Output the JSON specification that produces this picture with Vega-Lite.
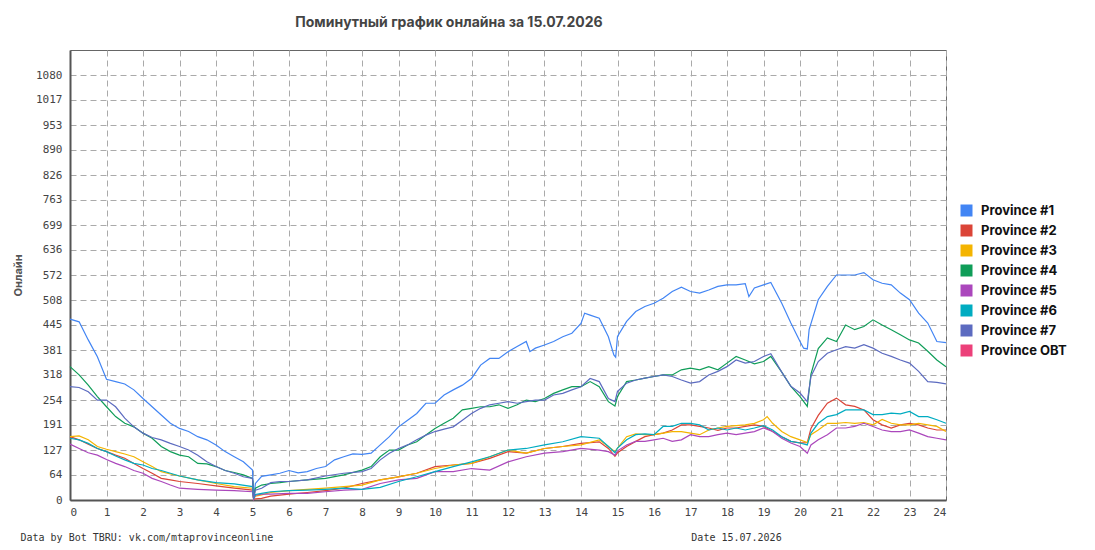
{
  "$schema": "https://vega.github.io/schema/vega-lite/v6.json",
  "width": 876,
  "height": 450,
  "autosize": "none",
  "padding": {"left": 70, "top": 50, "right": 149, "bottom": 50},
  "background": "white",
  "title": {
    "text": "Поминутный график онлайна за 15.07.2026",
    "font": "Inter",
    "fontSize": 14,
    "fontWeight": "bold",
    "color": "#444",
    "anchor": "middle",
    "dx": -59,
    "offset": 20
  },
  "config": {
    "view": {"stroke": "#666", "strokeWidth": 1},
    "axis": {
      "labelFont": "DejaVu Sans Mono",
      "labelFontSize": 11,
      "labelColor": "#444",
      "ticks": false,
      "grid": true,
      "gridColor": "#aaa",
      "gridDash": [6, 4],
      "gridWidth": 1,
      "domainColor": "#555",
      "domainWidth": 2
    }
  },
  "data": {
    "values": [
      {"h":0,"s":"Province #1","v":460},{"h":0.25,"s":"Province #1","v":453},{"h":0.5,"s":"Province #1","v":407},{"h":0.75,"s":"Province #1","v":364},
      {"h":1,"s":"Province #1","v":307},{"h":1.25,"s":"Province #1","v":301},{"h":1.5,"s":"Province #1","v":295},{"h":1.75,"s":"Province #1","v":280},
      {"h":2,"s":"Province #1","v":258},{"h":2.25,"s":"Province #1","v":237},{"h":2.5,"s":"Province #1","v":216},{"h":2.75,"s":"Province #1","v":195},
      {"h":3,"s":"Province #1","v":182},{"h":3.25,"s":"Province #1","v":174},{"h":3.5,"s":"Province #1","v":161},{"h":3.75,"s":"Province #1","v":153},
      {"h":4,"s":"Province #1","v":140},{"h":4.25,"s":"Province #1","v":123},{"h":4.5,"s":"Province #1","v":110},{"h":4.75,"s":"Province #1","v":97},
      {"h":5,"s":"Province #1","v":76},{"h":5.03,"s":"Province #1","v":4},{"h":5.08,"s":"Province #1","v":42},{"h":5.25,"s":"Province #1","v":60},
      {"h":5.5,"s":"Province #1","v":64},{"h":5.75,"s":"Province #1","v":68},{"h":6,"s":"Province #1","v":75},{"h":6.25,"s":"Province #1","v":69},
      {"h":6.5,"s":"Province #1","v":72},{"h":6.75,"s":"Province #1","v":80},{"h":7,"s":"Province #1","v":85},{"h":7.25,"s":"Province #1","v":102},
      {"h":7.5,"s":"Province #1","v":110},{"h":7.75,"s":"Province #1","v":117},{"h":8,"s":"Province #1","v":116},{"h":8.25,"s":"Province #1","v":119},
      {"h":8.5,"s":"Province #1","v":140},{"h":8.75,"s":"Province #1","v":161},{"h":9,"s":"Province #1","v":186},{"h":9.25,"s":"Province #1","v":203},
      {"h":9.5,"s":"Province #1","v":220},{"h":9.75,"s":"Province #1","v":246},{"h":10,"s":"Province #1","v":246},{"h":10.25,"s":"Province #1","v":267},
      {"h":10.5,"s":"Province #1","v":280},{"h":10.75,"s":"Province #1","v":292},{"h":11,"s":"Province #1","v":309},{"h":11.25,"s":"Province #1","v":343},
      {"h":11.5,"s":"Province #1","v":360},{"h":11.75,"s":"Province #1","v":360},{"h":12,"s":"Province #1","v":377},{"h":12.25,"s":"Province #1","v":390},
      {"h":12.5,"s":"Province #1","v":403},{"h":12.6,"s":"Province #1","v":377},{"h":12.75,"s":"Province #1","v":386},{"h":13,"s":"Province #1","v":394},
      {"h":13.25,"s":"Province #1","v":403},{"h":13.5,"s":"Province #1","v":415},{"h":13.75,"s":"Province #1","v":424},{"h":14,"s":"Province #1","v":449},
      {"h":14.1,"s":"Province #1","v":475},{"h":14.25,"s":"Province #1","v":470},{"h":14.5,"s":"Province #1","v":462},{"h":14.75,"s":"Province #1","v":415},
      {"h":14.9,"s":"Province #1","v":369},{"h":14.95,"s":"Province #1","v":363},{"h":15,"s":"Province #1","v":416},{"h":15.25,"s":"Province #1","v":454},
      {"h":15.5,"s":"Province #1","v":479},{"h":15.75,"s":"Province #1","v":492},{"h":16,"s":"Province #1","v":500},{"h":16.25,"s":"Province #1","v":513},
      {"h":16.5,"s":"Province #1","v":530},{"h":16.75,"s":"Province #1","v":541},{"h":17,"s":"Province #1","v":530},{"h":17.25,"s":"Province #1","v":526},
      {"h":17.5,"s":"Province #1","v":534},{"h":17.75,"s":"Province #1","v":543},{"h":18,"s":"Province #1","v":547},{"h":18.25,"s":"Province #1","v":547},
      {"h":18.5,"s":"Province #1","v":550},{"h":18.6,"s":"Province #1","v":517},{"h":18.75,"s":"Province #1","v":539},{"h":19,"s":"Province #1","v":547},
      {"h":19.2,"s":"Province #1","v":553},{"h":19.5,"s":"Province #1","v":500},{"h":19.75,"s":"Province #1","v":450},{"h":20,"s":"Province #1","v":403},
      {"h":20.1,"s":"Province #1","v":386},{"h":20.2,"s":"Province #1","v":384},{"h":20.25,"s":"Province #1","v":433},{"h":20.5,"s":"Province #1","v":509},
      {"h":20.75,"s":"Province #1","v":543},{"h":21,"s":"Province #1","v":572},{"h":21.25,"s":"Province #1","v":572},{"h":21.5,"s":"Province #1","v":572},
      {"h":21.75,"s":"Province #1","v":578},{"h":22,"s":"Province #1","v":560},{"h":22.25,"s":"Province #1","v":551},{"h":22.5,"s":"Province #1","v":547},
      {"h":22.75,"s":"Province #1","v":526},{"h":23,"s":"Province #1","v":509},{"h":23.25,"s":"Province #1","v":475},{"h":23.5,"s":"Province #1","v":450},
      {"h":23.75,"s":"Province #1","v":403},{"h":24,"s":"Province #1","v":400},

      {"h":0,"s":"Province #2","v":161},{"h":0.25,"s":"Province #2","v":153},{"h":0.5,"s":"Province #2","v":142},{"h":0.75,"s":"Province #2","v":131},
      {"h":1,"s":"Province #2","v":123},{"h":1.25,"s":"Province #2","v":114},{"h":1.5,"s":"Province #2","v":106},{"h":1.75,"s":"Province #2","v":93},
      {"h":2,"s":"Province #2","v":80},{"h":2.25,"s":"Province #2","v":68},{"h":2.5,"s":"Province #2","v":55},{"h":2.75,"s":"Province #2","v":51},
      {"h":3,"s":"Province #2","v":47},{"h":3.5,"s":"Province #2","v":42},{"h":4,"s":"Province #2","v":36},{"h":4.5,"s":"Province #2","v":30},
      {"h":5,"s":"Province #2","v":25},{"h":5.03,"s":"Province #2","v":2},{"h":5.08,"s":"Province #2","v":3},{"h":5.25,"s":"Province #2","v":4},
      {"h":5.5,"s":"Province #2","v":10},{"h":6,"s":"Province #2","v":15},{"h":6.5,"s":"Province #2","v":19},{"h":7,"s":"Province #2","v":24},
      {"h":7.5,"s":"Province #2","v":30},{"h":8,"s":"Province #2","v":42},{"h":8.5,"s":"Province #2","v":51},{"h":9,"s":"Province #2","v":59},
      {"h":9.5,"s":"Province #2","v":68},{"h":10,"s":"Province #2","v":85},{"h":10.5,"s":"Province #2","v":89},{"h":11,"s":"Province #2","v":93},
      {"h":11.5,"s":"Province #2","v":106},{"h":12,"s":"Province #2","v":123},{"h":12.5,"s":"Province #2","v":119},{"h":13,"s":"Province #2","v":131},
      {"h":13.5,"s":"Province #2","v":136},{"h":14,"s":"Province #2","v":144},{"h":14.5,"s":"Province #2","v":148},{"h":14.75,"s":"Province #2","v":131},
      {"h":14.93,"s":"Province #2","v":111},{"h":15,"s":"Province #2","v":120},{"h":15.25,"s":"Province #2","v":136},{"h":15.5,"s":"Province #2","v":149},
      {"h":15.75,"s":"Province #2","v":161},{"h":16,"s":"Province #2","v":166},{"h":16.25,"s":"Province #2","v":170},{"h":16.5,"s":"Province #2","v":178},
      {"h":16.75,"s":"Province #2","v":191},{"h":17,"s":"Province #2","v":191},{"h":17.25,"s":"Province #2","v":187},{"h":17.5,"s":"Province #2","v":183},
      {"h":17.75,"s":"Province #2","v":177},{"h":18,"s":"Province #2","v":183},{"h":18.25,"s":"Province #2","v":183},{"h":18.5,"s":"Province #2","v":187},
      {"h":18.75,"s":"Province #2","v":191},{"h":19,"s":"Province #2","v":187},{"h":19.25,"s":"Province #2","v":174},{"h":19.5,"s":"Province #2","v":161},
      {"h":19.75,"s":"Province #2","v":149},{"h":20,"s":"Province #2","v":145},{"h":20.2,"s":"Province #2","v":146},{"h":20.3,"s":"Province #2","v":182},
      {"h":20.5,"s":"Province #2","v":215},{"h":20.75,"s":"Province #2","v":246},{"h":21,"s":"Province #2","v":259},{"h":21.25,"s":"Province #2","v":242},
      {"h":21.5,"s":"Province #2","v":238},{"h":21.75,"s":"Province #2","v":229},{"h":22,"s":"Province #2","v":204},{"h":22.25,"s":"Province #2","v":191},
      {"h":22.5,"s":"Province #2","v":183},{"h":22.75,"s":"Province #2","v":191},{"h":23,"s":"Province #2","v":195},{"h":23.25,"s":"Province #2","v":191},
      {"h":23.5,"s":"Province #2","v":183},{"h":23.75,"s":"Province #2","v":178},{"h":24,"s":"Province #2","v":178},

      {"h":0,"s":"Province #3","v":161},{"h":0.25,"s":"Province #3","v":163},{"h":0.5,"s":"Province #3","v":153},{"h":0.75,"s":"Province #3","v":136},
      {"h":1,"s":"Province #3","v":129},{"h":1.25,"s":"Province #3","v":123},{"h":1.5,"s":"Province #3","v":117},{"h":1.75,"s":"Province #3","v":110},
      {"h":2,"s":"Province #3","v":97},{"h":2.25,"s":"Province #3","v":85},{"h":2.5,"s":"Province #3","v":72},{"h":2.75,"s":"Province #3","v":66},
      {"h":3,"s":"Province #3","v":61},{"h":3.5,"s":"Province #3","v":51},{"h":4,"s":"Province #3","v":42},{"h":4.5,"s":"Province #3","v":34},
      {"h":5,"s":"Province #3","v":30},{"h":5.03,"s":"Province #3","v":3},{"h":5.08,"s":"Province #3","v":10},{"h":5.25,"s":"Province #3","v":13},
      {"h":5.5,"s":"Province #3","v":19},{"h":6,"s":"Province #3","v":24},{"h":6.5,"s":"Province #3","v":27},{"h":7,"s":"Province #3","v":30},
      {"h":7.5,"s":"Province #3","v":34},{"h":8,"s":"Province #3","v":38},{"h":8.5,"s":"Province #3","v":51},{"h":9,"s":"Province #3","v":59},
      {"h":9.5,"s":"Province #3","v":68},{"h":10,"s":"Province #3","v":80},{"h":10.5,"s":"Province #3","v":89},{"h":11,"s":"Province #3","v":93},
      {"h":11.5,"s":"Province #3","v":110},{"h":12,"s":"Province #3","v":127},{"h":12.5,"s":"Province #3","v":119},{"h":13,"s":"Province #3","v":131},
      {"h":13.5,"s":"Province #3","v":136},{"h":14,"s":"Province #3","v":140},{"h":14.5,"s":"Province #3","v":153},{"h":14.75,"s":"Province #3","v":136},
      {"h":14.93,"s":"Province #3","v":123},{"h":15,"s":"Province #3","v":132},{"h":15.25,"s":"Province #3","v":161},{"h":15.5,"s":"Province #3","v":168},
      {"h":15.75,"s":"Province #3","v":166},{"h":16,"s":"Province #3","v":166},{"h":16.25,"s":"Province #3","v":170},{"h":16.5,"s":"Province #3","v":174},
      {"h":16.75,"s":"Province #3","v":174},{"h":17,"s":"Province #3","v":170},{"h":17.25,"s":"Province #3","v":166},{"h":17.5,"s":"Province #3","v":178},
      {"h":17.75,"s":"Province #3","v":183},{"h":18,"s":"Province #3","v":187},{"h":18.25,"s":"Province #3","v":189},{"h":18.5,"s":"Province #3","v":191},
      {"h":18.75,"s":"Province #3","v":195},{"h":19,"s":"Province #3","v":204},{"h":19.1,"s":"Province #3","v":212},{"h":19.25,"s":"Province #3","v":195},
      {"h":19.5,"s":"Province #3","v":174},{"h":19.75,"s":"Province #3","v":161},{"h":20,"s":"Province #3","v":153},{"h":20.2,"s":"Province #3","v":146},
      {"h":20.3,"s":"Province #3","v":166},{"h":20.5,"s":"Province #3","v":178},{"h":20.75,"s":"Province #3","v":195},{"h":21,"s":"Province #3","v":195},
      {"h":21.25,"s":"Province #3","v":197},{"h":21.5,"s":"Province #3","v":195},{"h":21.75,"s":"Province #3","v":197},{"h":22,"s":"Province #3","v":191},
      {"h":22.25,"s":"Province #3","v":205},{"h":22.5,"s":"Province #3","v":195},{"h":22.75,"s":"Province #3","v":191},{"h":23,"s":"Province #3","v":191},
      {"h":23.25,"s":"Province #3","v":195},{"h":23.5,"s":"Province #3","v":191},{"h":23.75,"s":"Province #3","v":187},{"h":24,"s":"Province #3","v":174},

      {"h":0,"s":"Province #4","v":339},{"h":0.25,"s":"Province #4","v":318},{"h":0.5,"s":"Province #4","v":292},{"h":0.75,"s":"Province #4","v":263},
      {"h":1,"s":"Province #4","v":237},{"h":1.25,"s":"Province #4","v":212},{"h":1.5,"s":"Province #4","v":195},{"h":1.75,"s":"Province #4","v":186},
      {"h":2,"s":"Province #4","v":170},{"h":2.25,"s":"Province #4","v":157},{"h":2.5,"s":"Province #4","v":136},{"h":2.75,"s":"Province #4","v":123},
      {"h":3,"s":"Province #4","v":114},{"h":3.25,"s":"Province #4","v":110},{"h":3.5,"s":"Province #4","v":93},{"h":3.75,"s":"Province #4","v":92},
      {"h":4,"s":"Province #4","v":85},{"h":4.25,"s":"Province #4","v":75},{"h":4.5,"s":"Province #4","v":70},{"h":4.75,"s":"Province #4","v":64},
      {"h":5,"s":"Province #4","v":55},{"h":5.03,"s":"Province #4","v":4},{"h":5.08,"s":"Province #4","v":30},{"h":5.25,"s":"Province #4","v":38},
      {"h":5.5,"s":"Province #4","v":42},{"h":5.75,"s":"Province #4","v":44},{"h":6,"s":"Province #4","v":47},{"h":6.5,"s":"Province #4","v":51},
      {"h":7,"s":"Province #4","v":55},{"h":7.5,"s":"Province #4","v":64},{"h":8,"s":"Province #4","v":76},{"h":8.25,"s":"Province #4","v":85},
      {"h":8.5,"s":"Province #4","v":110},{"h":8.75,"s":"Province #4","v":127},{"h":9,"s":"Province #4","v":127},{"h":9.25,"s":"Province #4","v":140},
      {"h":9.5,"s":"Province #4","v":148},{"h":9.75,"s":"Province #4","v":165},{"h":10,"s":"Province #4","v":182},{"h":10.25,"s":"Province #4","v":195},
      {"h":10.5,"s":"Province #4","v":208},{"h":10.75,"s":"Province #4","v":229},{"h":11,"s":"Province #4","v":233},{"h":11.25,"s":"Province #4","v":237},
      {"h":11.5,"s":"Province #4","v":237},{"h":11.75,"s":"Province #4","v":242},{"h":12,"s":"Province #4","v":233},{"h":12.25,"s":"Province #4","v":242},
      {"h":12.5,"s":"Province #4","v":254},{"h":12.75,"s":"Province #4","v":250},{"h":13,"s":"Province #4","v":258},{"h":13.25,"s":"Province #4","v":271},
      {"h":13.5,"s":"Province #4","v":280},{"h":13.75,"s":"Province #4","v":288},{"h":14,"s":"Province #4","v":288},{"h":14.25,"s":"Province #4","v":301},
      {"h":14.5,"s":"Province #4","v":288},{"h":14.75,"s":"Province #4","v":250},{"h":14.93,"s":"Province #4","v":239},{"h":15,"s":"Province #4","v":263},
      {"h":15.25,"s":"Province #4","v":301},{"h":15.5,"s":"Province #4","v":305},{"h":15.75,"s":"Province #4","v":310},{"h":16,"s":"Province #4","v":314},
      {"h":16.25,"s":"Province #4","v":318},{"h":16.5,"s":"Province #4","v":318},{"h":16.75,"s":"Province #4","v":331},{"h":17,"s":"Province #4","v":335},
      {"h":17.25,"s":"Province #4","v":331},{"h":17.5,"s":"Province #4","v":339},{"h":17.75,"s":"Province #4","v":331},{"h":18,"s":"Province #4","v":348},
      {"h":18.25,"s":"Province #4","v":365},{"h":18.5,"s":"Province #4","v":356},{"h":18.75,"s":"Province #4","v":346},{"h":19,"s":"Province #4","v":352},
      {"h":19.2,"s":"Province #4","v":365},{"h":19.5,"s":"Province #4","v":325},{"h":19.75,"s":"Province #4","v":289},{"h":20,"s":"Province #4","v":263},
      {"h":20.2,"s":"Province #4","v":238},{"h":20.3,"s":"Province #4","v":320},{"h":20.5,"s":"Province #4","v":385},{"h":20.75,"s":"Province #4","v":412},
      {"h":21,"s":"Province #4","v":403},{"h":21.25,"s":"Province #4","v":445},{"h":21.5,"s":"Province #4","v":433},{"h":21.75,"s":"Province #4","v":441},
      {"h":22,"s":"Province #4","v":458},{"h":22.25,"s":"Province #4","v":445},{"h":22.5,"s":"Province #4","v":433},{"h":22.75,"s":"Province #4","v":420},
      {"h":23,"s":"Province #4","v":407},{"h":23.25,"s":"Province #4","v":399},{"h":23.5,"s":"Province #4","v":378},{"h":23.75,"s":"Province #4","v":356},
      {"h":24,"s":"Province #4","v":339},

      {"h":0,"s":"Province #5","v":142},{"h":0.25,"s":"Province #5","v":131},{"h":0.5,"s":"Province #5","v":120},{"h":0.75,"s":"Province #5","v":114},
      {"h":1,"s":"Province #5","v":103},{"h":1.25,"s":"Province #5","v":93},{"h":1.5,"s":"Province #5","v":85},{"h":1.75,"s":"Province #5","v":75},
      {"h":2,"s":"Province #5","v":68},{"h":2.25,"s":"Province #5","v":55},{"h":2.5,"s":"Province #5","v":47},{"h":2.75,"s":"Province #5","v":38},
      {"h":3,"s":"Province #5","v":30},{"h":3.5,"s":"Province #5","v":27},{"h":4,"s":"Province #5","v":25},{"h":4.5,"s":"Province #5","v":24},
      {"h":5,"s":"Province #5","v":21},{"h":5.03,"s":"Province #5","v":2},{"h":5.08,"s":"Province #5","v":12},{"h":5.25,"s":"Province #5","v":15},
      {"h":5.5,"s":"Province #5","v":15},{"h":6,"s":"Province #5","v":17},{"h":6.5,"s":"Province #5","v":17},{"h":7,"s":"Province #5","v":21},
      {"h":7.5,"s":"Province #5","v":25},{"h":8,"s":"Province #5","v":27},{"h":8.5,"s":"Province #5","v":42},{"h":9,"s":"Province #5","v":51},
      {"h":9.5,"s":"Province #5","v":55},{"h":10,"s":"Province #5","v":72},{"h":10.5,"s":"Province #5","v":72},{"h":11,"s":"Province #5","v":80},
      {"h":11.5,"s":"Province #5","v":76},{"h":12,"s":"Province #5","v":97},{"h":12.5,"s":"Province #5","v":110},{"h":13,"s":"Province #5","v":119},
      {"h":13.5,"s":"Province #5","v":123},{"h":14,"s":"Province #5","v":131},{"h":14.5,"s":"Province #5","v":127},{"h":14.75,"s":"Province #5","v":123},
      {"h":14.93,"s":"Province #5","v":114},{"h":15,"s":"Province #5","v":125},{"h":15.25,"s":"Province #5","v":140},{"h":15.5,"s":"Province #5","v":149},
      {"h":15.75,"s":"Province #5","v":149},{"h":16,"s":"Province #5","v":153},{"h":16.25,"s":"Province #5","v":157},{"h":16.5,"s":"Province #5","v":149},
      {"h":16.75,"s":"Province #5","v":153},{"h":17,"s":"Province #5","v":166},{"h":17.25,"s":"Province #5","v":161},{"h":17.5,"s":"Province #5","v":161},
      {"h":17.75,"s":"Province #5","v":166},{"h":18,"s":"Province #5","v":170},{"h":18.25,"s":"Province #5","v":166},{"h":18.5,"s":"Province #5","v":170},
      {"h":18.75,"s":"Province #5","v":174},{"h":19,"s":"Province #5","v":183},{"h":19.25,"s":"Province #5","v":174},{"h":19.5,"s":"Province #5","v":157},
      {"h":19.75,"s":"Province #5","v":145},{"h":20,"s":"Province #5","v":136},{"h":20.2,"s":"Province #5","v":119},{"h":20.3,"s":"Province #5","v":140},
      {"h":20.5,"s":"Province #5","v":153},{"h":20.75,"s":"Province #5","v":166},{"h":21,"s":"Province #5","v":183},{"h":21.25,"s":"Province #5","v":183},
      {"h":21.5,"s":"Province #5","v":187},{"h":21.75,"s":"Province #5","v":195},{"h":22,"s":"Province #5","v":187},{"h":22.25,"s":"Province #5","v":178},
      {"h":22.5,"s":"Province #5","v":174},{"h":22.75,"s":"Province #5","v":174},{"h":23,"s":"Province #5","v":178},{"h":23.25,"s":"Province #5","v":170},
      {"h":23.5,"s":"Province #5","v":161},{"h":23.75,"s":"Province #5","v":157},{"h":24,"s":"Province #5","v":153},

      {"h":0,"s":"Province #6","v":157},{"h":0.25,"s":"Province #6","v":153},{"h":0.5,"s":"Province #6","v":144},{"h":0.75,"s":"Province #6","v":131},
      {"h":1,"s":"Province #6","v":123},{"h":1.25,"s":"Province #6","v":112},{"h":1.5,"s":"Province #6","v":102},{"h":1.75,"s":"Province #6","v":93},
      {"h":2,"s":"Province #6","v":89},{"h":2.25,"s":"Province #6","v":80},{"h":2.5,"s":"Province #6","v":75},{"h":2.75,"s":"Province #6","v":68},
      {"h":3,"s":"Province #6","v":61},{"h":3.5,"s":"Province #6","v":51},{"h":4,"s":"Province #6","v":44},{"h":4.5,"s":"Province #6","v":41},
      {"h":5,"s":"Province #6","v":34},{"h":5.03,"s":"Province #6","v":3},{"h":5.08,"s":"Province #6","v":14},{"h":5.25,"s":"Province #6","v":17},
      {"h":5.5,"s":"Province #6","v":21},{"h":6,"s":"Province #6","v":24},{"h":6.5,"s":"Province #6","v":25},{"h":7,"s":"Province #6","v":27},
      {"h":7.5,"s":"Province #6","v":30},{"h":8,"s":"Province #6","v":27},{"h":8.5,"s":"Province #6","v":32},{"h":9,"s":"Province #6","v":47},
      {"h":9.5,"s":"Province #6","v":59},{"h":10,"s":"Province #6","v":72},{"h":10.5,"s":"Province #6","v":85},{"h":11,"s":"Province #6","v":97},
      {"h":11.5,"s":"Province #6","v":110},{"h":12,"s":"Province #6","v":127},{"h":12.5,"s":"Province #6","v":131},{"h":13,"s":"Province #6","v":140},
      {"h":13.5,"s":"Province #6","v":148},{"h":14,"s":"Province #6","v":161},{"h":14.5,"s":"Province #6","v":157},{"h":14.75,"s":"Province #6","v":136},
      {"h":14.93,"s":"Province #6","v":120},{"h":15,"s":"Province #6","v":132},{"h":15.25,"s":"Province #6","v":153},{"h":15.5,"s":"Province #6","v":166},
      {"h":15.75,"s":"Province #6","v":168},{"h":16,"s":"Province #6","v":166},{"h":16.25,"s":"Province #6","v":187},{"h":16.5,"s":"Province #6","v":187},
      {"h":16.75,"s":"Province #6","v":195},{"h":17,"s":"Province #6","v":195},{"h":17.25,"s":"Province #6","v":191},{"h":17.5,"s":"Province #6","v":178},
      {"h":17.75,"s":"Province #6","v":183},{"h":18,"s":"Province #6","v":178},{"h":18.25,"s":"Province #6","v":183},{"h":18.5,"s":"Province #6","v":178},
      {"h":18.75,"s":"Province #6","v":183},{"h":19,"s":"Province #6","v":189},{"h":19.25,"s":"Province #6","v":178},{"h":19.5,"s":"Province #6","v":161},
      {"h":19.75,"s":"Province #6","v":149},{"h":20,"s":"Province #6","v":145},{"h":20.2,"s":"Province #6","v":140},{"h":20.3,"s":"Province #6","v":170},
      {"h":20.5,"s":"Province #6","v":195},{"h":20.75,"s":"Province #6","v":212},{"h":21,"s":"Province #6","v":217},{"h":21.25,"s":"Province #6","v":229},
      {"h":21.5,"s":"Province #6","v":229},{"h":21.75,"s":"Province #6","v":229},{"h":22,"s":"Province #6","v":217},{"h":22.25,"s":"Province #6","v":217},
      {"h":22.5,"s":"Province #6","v":221},{"h":22.75,"s":"Province #6","v":219},{"h":23,"s":"Province #6","v":225},{"h":23.25,"s":"Province #6","v":212},
      {"h":23.5,"s":"Province #6","v":212},{"h":23.75,"s":"Province #6","v":204},{"h":24,"s":"Province #6","v":195},

      {"h":0,"s":"Province #7","v":288},{"h":0.25,"s":"Province #7","v":286},{"h":0.5,"s":"Province #7","v":275},{"h":0.75,"s":"Province #7","v":254},
      {"h":1,"s":"Province #7","v":254},{"h":1.25,"s":"Province #7","v":237},{"h":1.5,"s":"Province #7","v":208},{"h":1.75,"s":"Province #7","v":186},
      {"h":2,"s":"Province #7","v":170},{"h":2.25,"s":"Province #7","v":159},{"h":2.5,"s":"Province #7","v":153},{"h":2.75,"s":"Province #7","v":144},
      {"h":3,"s":"Province #7","v":136},{"h":3.25,"s":"Province #7","v":127},{"h":3.5,"s":"Province #7","v":114},{"h":3.75,"s":"Province #7","v":97},
      {"h":4,"s":"Province #7","v":85},{"h":4.25,"s":"Province #7","v":75},{"h":4.5,"s":"Province #7","v":68},{"h":4.75,"s":"Province #7","v":59},
      {"h":5,"s":"Province #7","v":55},{"h":5.03,"s":"Province #7","v":4},{"h":5.08,"s":"Province #7","v":25},{"h":5.25,"s":"Province #7","v":30},
      {"h":5.5,"s":"Province #7","v":44},{"h":5.75,"s":"Province #7","v":47},{"h":6,"s":"Province #7","v":47},{"h":6.5,"s":"Province #7","v":51},
      {"h":7,"s":"Province #7","v":61},{"h":7.5,"s":"Province #7","v":68},{"h":8,"s":"Province #7","v":72},{"h":8.25,"s":"Province #7","v":80},
      {"h":8.5,"s":"Province #7","v":102},{"h":8.75,"s":"Province #7","v":119},{"h":9,"s":"Province #7","v":131},{"h":9.25,"s":"Province #7","v":140},
      {"h":9.5,"s":"Province #7","v":153},{"h":9.75,"s":"Province #7","v":165},{"h":10,"s":"Province #7","v":174},{"h":10.25,"s":"Province #7","v":180},
      {"h":10.5,"s":"Province #7","v":186},{"h":10.75,"s":"Province #7","v":203},{"h":11,"s":"Province #7","v":220},{"h":11.25,"s":"Province #7","v":233},
      {"h":11.5,"s":"Province #7","v":242},{"h":11.75,"s":"Province #7","v":246},{"h":12,"s":"Province #7","v":250},{"h":12.25,"s":"Province #7","v":246},
      {"h":12.5,"s":"Province #7","v":250},{"h":12.75,"s":"Province #7","v":254},{"h":13,"s":"Province #7","v":254},{"h":13.25,"s":"Province #7","v":267},
      {"h":13.5,"s":"Province #7","v":271},{"h":13.75,"s":"Province #7","v":280},{"h":14,"s":"Province #7","v":288},{"h":14.25,"s":"Province #7","v":309},
      {"h":14.5,"s":"Province #7","v":301},{"h":14.75,"s":"Province #7","v":258},{"h":14.93,"s":"Province #7","v":250},{"h":15,"s":"Province #7","v":276},
      {"h":15.25,"s":"Province #7","v":297},{"h":15.5,"s":"Province #7","v":305},{"h":15.75,"s":"Province #7","v":310},{"h":16,"s":"Province #7","v":314},
      {"h":16.25,"s":"Province #7","v":318},{"h":16.5,"s":"Province #7","v":314},{"h":16.75,"s":"Province #7","v":305},{"h":17,"s":"Province #7","v":297},
      {"h":17.25,"s":"Province #7","v":301},{"h":17.5,"s":"Province #7","v":318},{"h":17.75,"s":"Province #7","v":327},{"h":18,"s":"Province #7","v":339},
      {"h":18.25,"s":"Province #7","v":356},{"h":18.5,"s":"Province #7","v":348},{"h":18.75,"s":"Province #7","v":352},{"h":19,"s":"Province #7","v":365},
      {"h":19.2,"s":"Province #7","v":372},{"h":19.5,"s":"Province #7","v":325},{"h":19.75,"s":"Province #7","v":289},{"h":20,"s":"Province #7","v":272},
      {"h":20.2,"s":"Province #7","v":250},{"h":20.3,"s":"Province #7","v":314},{"h":20.5,"s":"Province #7","v":352},{"h":20.75,"s":"Province #7","v":373},
      {"h":21,"s":"Province #7","v":382},{"h":21.25,"s":"Province #7","v":390},{"h":21.5,"s":"Province #7","v":386},{"h":21.75,"s":"Province #7","v":395},
      {"h":22,"s":"Province #7","v":386},{"h":22.25,"s":"Province #7","v":373},{"h":22.5,"s":"Province #7","v":365},{"h":22.75,"s":"Province #7","v":356},
      {"h":23,"s":"Province #7","v":348},{"h":23.25,"s":"Province #7","v":327},{"h":23.5,"s":"Province #7","v":301},{"h":23.75,"s":"Province #7","v":299},
      {"h":24,"s":"Province #7","v":295}
    ]
  },
  "layer": [
    {
      "mark": {"type": "line", "strokeWidth": 1.2, "interpolate": "linear"},
      "encoding": {
        "x": {
          "field": "h",
          "type": "quantitative",
          "scale": {"domain": [0, 24], "nice": false},
          "axis": {
            "values": [0,1,2,3,4,5,6,7,8,9,10,11,12,13,14,15,16,17,18,19,20,21,22,23,24],
            "format": "d",
            "labelPadding": 6,
            "title": "Date 15.07.2026",
            "titleFont": "DejaVu Sans Mono",
            "titleFontSize": 10,
            "titleFontWeight": "normal",
            "titleColor": "#333",
            "titleX": 666,
            "titleY": 37,
            "titleAlign": "center",
            "titleBaseline": "middle"
          }
        },
        "y": {
          "field": "v",
          "type": "quantitative",
          "scale": {"domain": [0, 1144], "nice": false},
          "axis": {
            "values": [0, 63.56, 127.11, 190.67, 254.22, 317.78, 381.33, 444.89, 508.44, 572, 635.56, 699.11, 762.67, 826.22, 889.78, 953.33, 1016.89, 1080.44],
            "format": "d",
            "labelPadding": 8,
            "title": "Онлайн",
            "titleFont": "Inter",
            "titleFontSize": 11,
            "titleFontWeight": "bold",
            "titleColor": "#555",
            "titlePadding": 12
          }
        },
        "color": {
          "field": "s",
          "type": "nominal",
          "scale": {
            "domain": ["Province #1", "Province #2", "Province #3", "Province #4", "Province #5", "Province #6", "Province #7", "Province OBT"],
            "range": ["#4285F4", "#DB4437", "#F4B400", "#0F9D58", "#AB47BC", "#00ACC1", "#5C6BC0", "#EC407A"]
          },
          "legend": {
            "title": null,
            "orient": "none",
            "legendX": 890,
            "legendY": 154,
            "padding": 0,
            "symbolType": "square",
            "symbolSize": 144,
            "rowPadding": 6,
            "labelOffset": 8,
            "labelFont": "Inter",
            "labelFontSize": 13,
            "labelFontWeight": "bold",
            "labelColor": "#111",
            "encode": {
              "symbols": {
                "update": {
                  "fill": {"scale": "color", "field": "value"},
                  "strokeWidth": {"value": 0}
                }
              }
            }
          }
        }
      }
    },
    {
      "mark": {"type": "rule", "opacity": 0},
      "encoding": {
        "y": {
          "datum": 0,
          "type": "quantitative",
          "axis": {
            "orient": "right",
            "labels": false,
            "ticks": false,
            "domain": false,
            "grid": false,
            "title": "Data by Bot TBRU: vk.com/mtaprovinceonline",
            "titleFont": "DejaVu Sans Mono",
            "titleFontSize": 10,
            "titleFontWeight": "normal",
            "titleColor": "#333",
            "titleAngle": 0,
            "titleAlign": "left",
            "titleBaseline": "middle",
            "titleX": -926,
            "titleY": 487
          }
        }
      }
    }
  ],
  "resolve": {"scale": {"y": "shared"}, "axis": {"y": "independent"}}
}
